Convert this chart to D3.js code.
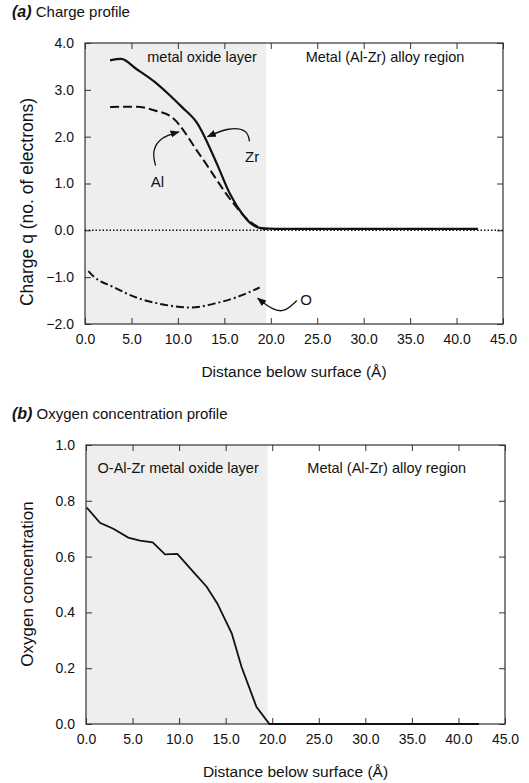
<!DOCTYPE html>
<html><head><meta charset="utf-8">
<script src="https://cdn.jsdelivr.net/npm/d3@7"></script>
<style>
body{margin:0;background:#fff;}
svg{font-family:"Liberation Sans",Arial,Helvetica,sans-serif;}
</style></head>
<body><svg id="c" width="529" height="783"></svg>
<script>
// ---- data ----
const xTicks = [0,5,10,15,20,25,30,35,40,45];
const yTicksA = [-2,-1,0,1,2,3,4];
const yTicksB = [0,0.2,0.4,0.6,0.8,1.0];
const oxideEnd = 19.5;
const zrX = [2.7,3.9,5.5,7.5,9.15,10.5,12.0,14.2,15.6,16.9,18.1,19.2,20.5,25,30,35,42.3];
const zrQ = [3.63,3.66,3.45,3.17,2.88,2.62,2.31,1.42,0.78,0.36,0.11,0.04,0.03,0.03,0.03,0.03,0.03];
const alX = [2.7,4.5,5.6,7.5,9.33,12.4,16.0,17.4,18.8,19.6];
const alQ = [2.63,2.64,2.64,2.56,2.42,1.60,0.57,0.25,0.06,0.03];
const oX = [0.36,0.9,3.05,5.6,8.07,11.5,13.8,16.3,18.8];
const oQ = [-0.87,-0.98,-1.21,-1.44,-1.57,-1.65,-1.57,-1.43,-1.22];
const cX = [0.07,1.5,2.93,4.54,5.8,7.16,8.49,9.81,11.5,12.96,14.1,15.65,16.7,18.3,19.7,25,30,35,42.2];
const cO = [0.776,0.721,0.70,0.668,0.657,0.651,0.608,0.61,0.546,0.492,0.432,0.325,0.205,0.062,0.0,0.0,0.0,0.0,0.0];

const svg = d3.select("#c");
const frameCol = "#333";

function panel(cfg){
  const g = svg.append("g");
  const x = d3.scaleLinear().domain([0,45]).range([cfg.left,cfg.right]);
  const y = d3.scaleLinear().domain(cfg.ydom).range([cfg.bottom,cfg.top]);
  g.append("rect").attr("x",x(0)).attr("y",cfg.top).attr("width",x(oxideEnd)-x(0))
    .attr("height",cfg.bottom-cfg.top).attr("fill","#eeeeee");
  const tl = 6;
  g.append("g").attr("transform",`translate(0,${cfg.bottom})`)
    .call(d3.axisBottom(x).tickValues(xTicks).tickSizeInner(-tl).tickSizeOuter(0).tickPadding(10).tickFormat(d3.format(".1f")))
    .call(a=>{a.select(".domain").remove();a.selectAll("text").attr("font-size",14).attr("fill","#111");a.selectAll("line").attr("stroke",frameCol);});
  g.append("g").attr("transform",`translate(0,${cfg.top})`)
    .call(d3.axisTop(x).tickValues(xTicks).tickSizeInner(-tl).tickSizeOuter(0).tickFormat(""))
    .call(a=>{a.select(".domain").remove();a.selectAll("line").attr("stroke",frameCol);});
  g.append("g").attr("transform",`translate(${cfg.left},0)`)
    .call(d3.axisLeft(y).tickValues(cfg.yticks).tickSizeInner(-tl).tickSizeOuter(0).tickPadding(11).tickFormat(d3.format(".1f")))
    .call(a=>{a.select(".domain").remove();a.selectAll("text").attr("font-size",14).attr("fill","#111");a.selectAll("line").attr("stroke",frameCol);});
  g.append("g").attr("transform",`translate(${cfg.right},0)`)
    .call(d3.axisRight(y).tickValues(cfg.yticks).tickSizeInner(-tl).tickSizeOuter(0).tickFormat(""))
    .call(a=>{a.select(".domain").remove();a.selectAll("line").attr("stroke",frameCol);});
  g.append("rect").attr("x",cfg.left).attr("y",cfg.top).attr("width",cfg.right-cfg.left)
    .attr("height",cfg.bottom-cfg.top).attr("fill","none").attr("stroke",frameCol).attr("stroke-width",1.2);
  g.append("text").attr("x",(cfg.left+cfg.right)/2).attr("y",cfg.bottom+53).attr("text-anchor","middle")
    .attr("font-size",15.5).attr("fill","#111").text("Distance below surface (Å)");
  g.append("text").attr("transform",`translate(33,${cfg.ymid}) rotate(-90)`).attr("text-anchor","middle")
    .attr("font-size",cfg.yfs).attr("fill","#111").text(cfg.ytitle);
  const t = g.append("text").attr("x",12).attr("y",cfg.top-26).attr("font-size",15).attr("fill","#111");
  t.append("tspan").attr("font-weight","bold").attr("font-style","italic").attr("font-size",16).text(cfg.tag);
  t.append("tspan").text(" "+cfg.label);
  return {g,x,y};
}

const A = panel({left:85,right:503,top:43,bottom:324,ydom:[-2,4],yticks:yTicksA,ymid:202,yfs:17.5,
  ytitle:"Charge q (no. of electrons)",tag:"(a)",label:"Charge profile"});
const B = panel({left:86,right:505,top:445,bottom:724,ydom:[0,1],yticks:yTicksB,ymid:584,yfs:17,
  ytitle:"Oxygen concentration",tag:"(b)",label:"Oxygen concentration profile"});

const lineA = d3.line().x(d=>A.x(d[0])).y(d=>A.y(d[1])).curve(d3.curveMonotoneX);
A.g.append("line").attr("x1",A.x(0)).attr("x2",A.x(45)).attr("y1",A.y(0)).attr("y2",A.y(0))
  .attr("stroke","#111").attr("stroke-width",1.5).attr("stroke-dasharray","1.5,2");
A.g.append("path").datum(d3.zip(alX,alQ)).attr("d",lineA).attr("fill","none").attr("stroke","#111")
  .attr("stroke-width",2).attr("stroke-dasharray","9,4");
A.g.append("path").datum(d3.zip(zrX,zrQ)).attr("d",lineA).attr("fill","none").attr("stroke","#111")
  .attr("stroke-width",2.2);
A.g.append("path").datum(d3.zip(oX,oQ)).attr("d",lineA).attr("fill","none").attr("stroke","#111")
  .attr("stroke-width",2).attr("stroke-dasharray","8,3,2,3");

const txt = (g,x,y,s,fs=14.5)=>g.append("text").attr("x",x).attr("y",y).attr("text-anchor","middle")
  .attr("font-size",fs).attr("fill","#111").text(s);
txt(A.g,A.x(12.6),A.y(3.6),"metal oxide layer");
txt(A.g,A.x(32.3),A.y(3.6),"Metal (Al-Zr) alloy region");
txt(A.g,A.x(18),A.y(1.45),"Zr",15);
txt(A.g,A.x(7.8),A.y(0.92),"Al",15);
txt(A.g,A.x(23.8),A.y(-1.6),"O",15);

svg.append("defs").append("marker").attr("id","ah").attr("viewBox","0 0 10 10").attr("refX",9).attr("refY",5)
  .attr("markerWidth",7).attr("markerHeight",7).attr("orient","auto-start-reverse")
  .append("path").attr("d","M0,1 L10,5 L0,9 Z").attr("fill","#111");
const arrow = (pts)=>A.g.append("path").attr("d",d3.line().curve(d3.curveBasis)(pts.map(p=>[A.x(p[0]),A.y(p[1])])))
  .attr("fill","none").attr("stroke","#111").attr("stroke-width",1.3).attr("marker-end","url(#ah)");
arrow([[17.7,1.9],[17.5,2.15],[15.5,2.2],[13.2,2.0]]);
arrow([[7.6,1.38],[7.2,1.7],[8.2,2.0],[10.1,2.1]]);
arrow([[22.8,-1.5],[21.5,-1.75],[20.2,-1.7],[18.6,-1.45]]);

const lineB = d3.line().x(d=>B.x(d[0])).y(d=>B.y(d[1]));
B.g.append("path").datum(d3.zip(cX,cO)).attr("d",lineB).attr("fill","none").attr("stroke","#111").attr("stroke-width",1.8);
txt(B.g,B.x(9.9),B.y(0.9),"O-Al-Zr metal oxide layer");
txt(B.g,B.x(32.3),B.y(0.9),"Metal (Al-Zr) alloy region");
</script></body></html>
